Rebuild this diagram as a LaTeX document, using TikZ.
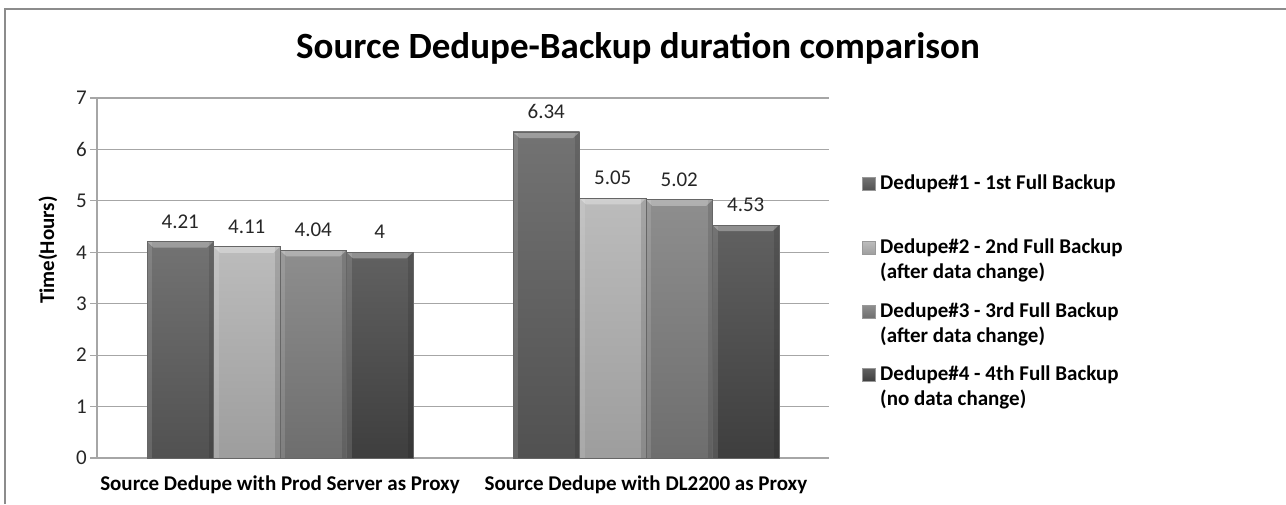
\documentclass[tikz,border=0pt]{standalone}
\usepackage{fontspec}
\setmainfont{Carlito}
\definecolor{serA}{HTML}{5A5A5A}
\definecolor{serB}{HTML}{ABABAB}
\definecolor{serC}{HTML}{7A7A7A}
\definecolor{serD}{HTML}{454545}
\definecolor{gridc}{HTML}{A6A6A6}
\definecolor{framec}{HTML}{8C8C8C}
\definecolor{txtc}{HTML}{262626}
\tikzset{
  sA/.style={top color=serA!85!white,bottom color=serA!90!black},
  sB/.style={top color=serB!80!white,bottom color=serB!92!black},
  sC/.style={top color=serC!85!white,bottom color=serC!90!black},
  sD/.style={top color=serD!85!white,bottom color=serD!90!black},
  valnum/.style={font=\fontsize{21}{24}\selectfont,text=txtc,inner sep=0pt},
  catlbl/.style={font=\bfseries\fontsize{21}{24}\selectfont,inner sep=0pt},
  leglbl/.style={font=\bfseries\fontsize{21}{25}\selectfont,align=left,anchor=west,inner sep=0pt},
}
% one bar with its bevel: left edge, value, series style
\newcommand{\chartbar}[3]{%
  \fill[#3] (#1,0) rectangle (#1+66.5,#2);
  \fill[white,opacity=.12] (#1,0) rectangle (#1+5,#2);
  \fill[black,opacity=.12] (#1+61.5,0) rectangle (#1+66.5,#2);
  \fill[white,opacity=.3] (#1,#2) -- (#1+66.5,#2) -- (#1+60,#2-0.12) -- (#1+6.5,#2-0.12) -- cycle;
  \draw[black!60,line width=.8pt] (#1,0) rectangle (#1+66.5,#2);
}
\begin{document}
\begin{tikzpicture}[x=1pt,y=-1pt]
  \useasboundingbox (0,0) rectangle (1286,504);
  % outer frame (cut off at right and bottom)
  \draw[framec,line width=2.5pt] (5,504) -- (5,9) -- (1286,9);
  \node (title) at (638,48) {\bfseries\fontsize{37}{42}\selectfont Source Dedupe-Backup duration comparison};
  \node[rotate=90,font=\bfseries\fontsize{21}{24}\selectfont] (ytitle) at (48,250) {Time(Hours)};

  \begin{scope}[shift={(97,458)},y=51.43pt]
    % grid and axes
    \foreach \v in {1,...,7}
      \draw[gridc,line width=1.2pt] (0,\v) -- (732,\v);
    \foreach \v in {0,...,7} {
      \draw[gridc,line width=1.2pt] (-7,\v) -- (0,\v);
      \node[valnum,anchor=east] (tick\v) at (-10,\v) {\v};
    }
    \draw[gridc,line width=1.2pt] (0,0) -- (0,7);
    \draw[gridc,line width=1.2pt] (0,0) -- (732,0);

    % bars
    \foreach \x/\v/\s/\n in {50/4.21/sA/a1,116.5/4.11/sB/a2,183/4.04/sC/a3,249.5/4/sD/a4,
                             416/6.34/sA/b1,482.5/5.05/sB/b2,549/5.02/sC/b3,615.5/4.53/sD/b4} {
      \chartbar{\x}{\v}{\s}
      \node[valnum] (val\n) at (\x+33.25,\v+0.39) {\v};
    }

    % category labels
    \node[catlbl] (catA) at (183,-0.53) {Source Dedupe with Prod Server as Proxy};
    \node[catlbl] (catB) at (549,-0.53) {Source Dedupe with DL2200 as Proxy};
  \end{scope}

  % legend
  \foreach \y/\s/\n in {184/sA/1,248/sB/2,312/sC/3,375/sD/4}
    \filldraw[\s,draw=black!40,line width=.5pt] (862,\y-6.5) rectangle (875,\y+6.5);
  \node[leglbl] (leg1) at (880,184) {Dedupe\#1 - 1st Full Backup};
  \node[leglbl] (leg2) at (880,260.5) {Dedupe\#2 - 2nd Full Backup\\(after data change)};
  \node[leglbl] (leg3) at (880,324.5) {Dedupe\#3 - 3rd Full Backup\\(after data change)};
  \node[leglbl] (leg4) at (880,387.5) {Dedupe\#4 - 4th Full Backup\\(no data change)};
\end{tikzpicture}
\end{document}
